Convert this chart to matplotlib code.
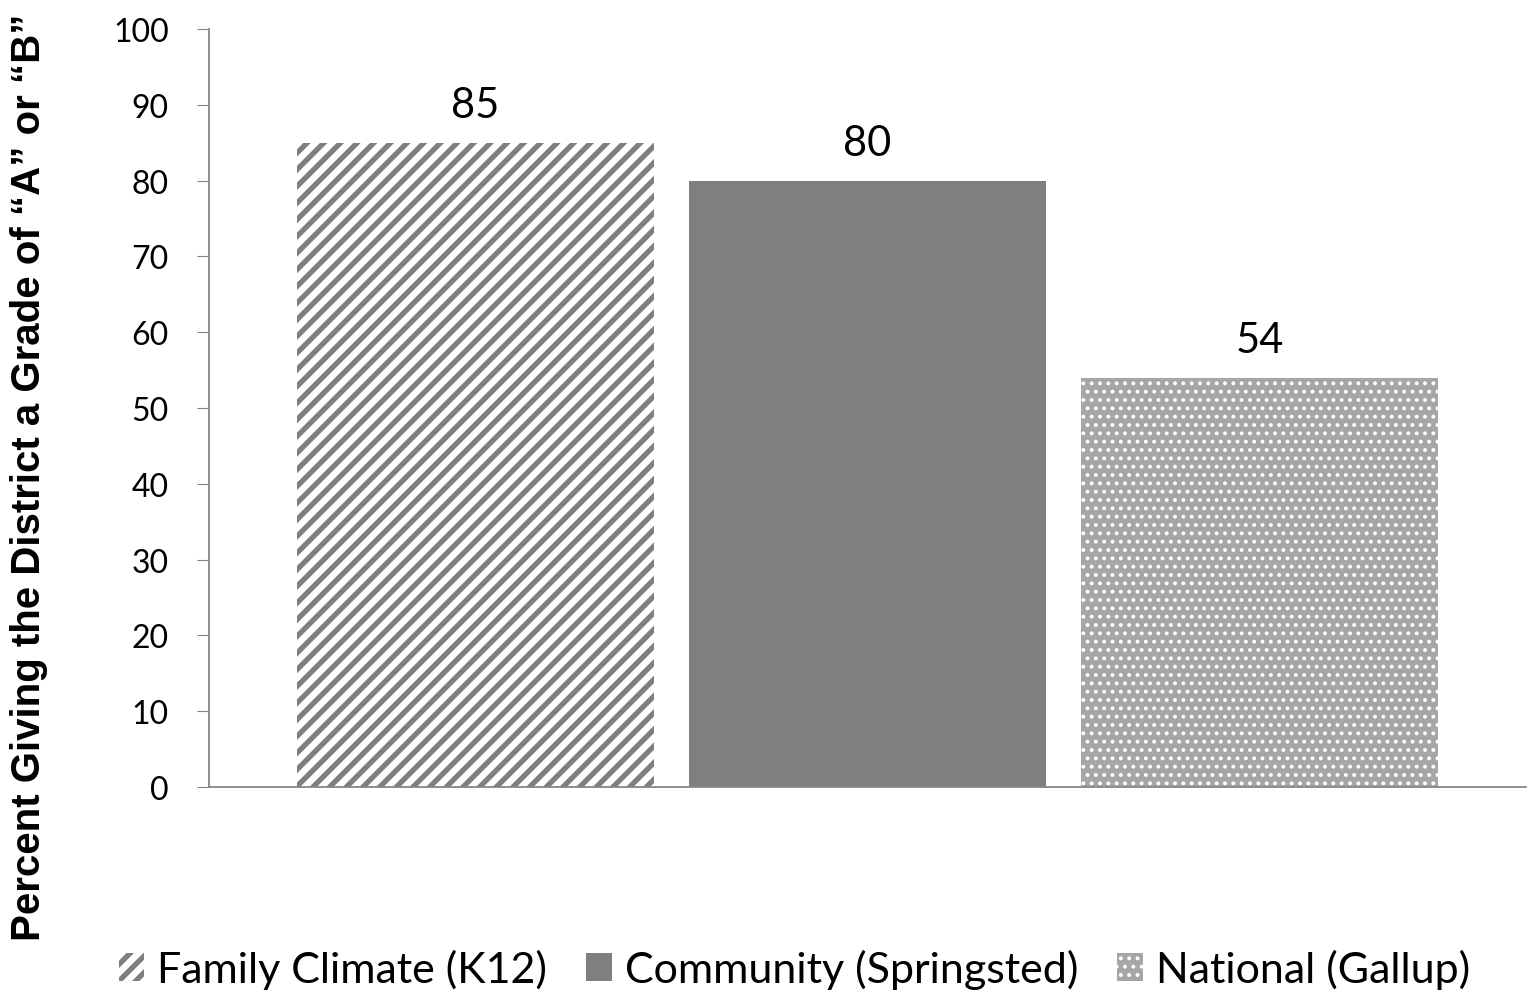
import matplotlib
matplotlib.use("Agg")
import matplotlib.pyplot as plt

# survey results: share giving the district an A or B
series = ["Family Climate (K12)", "Community (Springsted)", "National (Gallup)"]
values = [85, 80, 54]
y_ticks = [0, 10, 20, 30, 40, 50, 60, 70, 80, 90, 100]

plt.rcParams['font.family'] = ['Lato', 'DejaVu Sans']

fig = plt.figure(figsize=(15.3, 9.95), dpi=100)
ax = fig.add_axes([0.1366, 0.208, 0.8608, 0.7618])

styles = [
    dict(facecolor="white", edgecolor="#7f7f7f", hatch="//", linewidth=0),
    dict(facecolor="#7f7f7f", edgecolor="#7f7f7f", linewidth=0),
    dict(facecolor="#a6a6a6", edgecolor="white", hatch="..", linewidth=0),
]
hatch_widths = [3.8, 1.0, 1.6]

bars = []
for i, (name, val) in enumerate(zip(series, values)):
    b = ax.bar(i, val, width=0.91, label=name, **styles[i])
    for p in b:
        p.set_hatch_linewidth(hatch_widths[i])
    bars.append(b)
    ax.text(i, val + 2.5, str(val), ha="center", va="bottom", fontsize=30)

ax.set_xlim(-0.68, 2.68)
ax.set_ylim(0, 100)
ax.set_yticks(y_ticks)
ax.set_xticks([])
ax.tick_params(axis="y", labelsize=23, length=9, color="#868686", pad=20)

for side in ["top", "right"]:
    ax.spines[side].set_visible(False)
for side in ["left", "bottom"]:
    ax.spines[side].set_color("#868686")
    ax.spines[side].set_linewidth(1.3)

fig.text(0.019, 0.52, "Percent Giving the District a Grade of \u201cA\u201d or \u201cB\u201d",
         rotation=90, ha="center", va="center", fontsize=29, fontweight="bold",
         family=["Liberation Sans", "DejaVu Sans"])

leg = fig.legend(handles=[b[0] for b in bars], labels=series, loc="center",
                 bbox_to_anchor=(0.519, 0.025), ncol=3, frameon=False, fontsize=31,
                 handlelength=0.6, handleheight=0.6, handletextpad=0.3, columnspacing=0.9)
for h, w in zip(leg.legend_handles, hatch_widths):
    h.set_hatch_linewidth(w)

fig.savefig("out.png", dpi=100)
